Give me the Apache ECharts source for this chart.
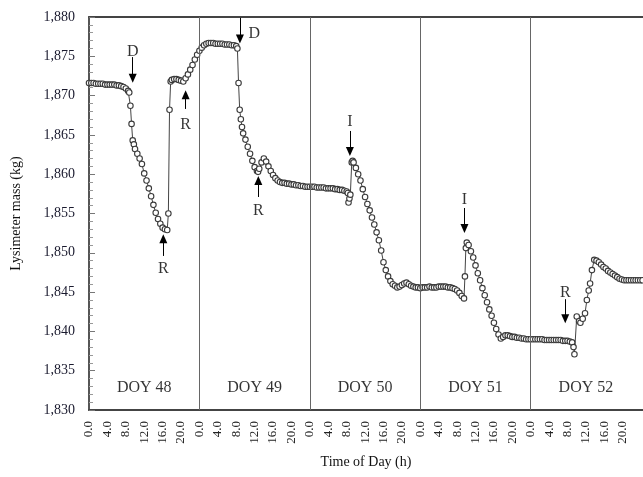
<!DOCTYPE html>
<html>
<head>
<meta charset="utf-8">
<script src="https://cdn.jsdelivr.net/npm/echarts@6/dist/echarts.min.js"></script>
<style>html,body{margin:0;padding:0;background:#fff}#c{width:643px;height:477px}</style>
</head>
<body>
<div id="c"></div>
<script>
// ---- data (hours since start of DOY 48, lysimeter mass kg) ----
const doy48Time = [0,0.5,1,1.5,2,2.5,3,3.5,4,4.5,5,5.5,6,6.5,7,7.5,8,8.5,8.75,9,9.25,9.5,9.75,10,10.5,11,11.5,12,12.5,13,13.5,14,14.5,15,15.5,16,16.5,17,17.25,17.5,17.75,18,18.5,19,19.5,20,20.5,21,21.5,22,22.5,23,23.5];
const doy48Mass = [1871.6,1871.6,1871.6,1871.5,1871.5,1871.5,1871.5,1871.4,1871.4,1871.4,1871.4,1871.4,1871.3,1871.3,1871.2,1871.1,1870.9,1870.6,1870.4,1868.7,1866.4,1864.3,1863.8,1863.2,1862.6,1862.0,1861.3,1860.1,1859.2,1858.2,1857.2,1856.1,1855.1,1854.3,1853.7,1853.2,1853.0,1852.9,1855.0,1868.2,1871.8,1872.0,1872.1,1872.1,1872.0,1871.9,1871.8,1872.2,1872.7,1873.3,1873.9,1874.6,1875.2];

const doy49Time = [24,24.5,25,25.5,26,26.5,27,27.5,28,28.5,29,29.5,30,30.5,31,31.5,32,32.25,32.5,32.75,33,33.25,33.5,34,34.5,35,35.5,36,36.5,36.75,37,37.5,38,38.5,39,39.5,40,40.5,41,41.5,42,42.5,43,43.5,44,44.5,45,45.5,46,46.5,47,47.5];
const doy49Mass = [1875.7,1876.1,1876.4,1876.6,1876.7,1876.7,1876.7,1876.6,1876.6,1876.6,1876.6,1876.5,1876.5,1876.5,1876.4,1876.4,1876.3,1876.0,1871.6,1868.2,1867.0,1866.0,1865.2,1864.4,1863.5,1862.6,1861.7,1860.9,1860.4,1860.3,1860.7,1861.5,1862.0,1861.6,1861.0,1860.4,1859.9,1859.5,1859.2,1859.0,1858.9,1858.9,1858.8,1858.8,1858.7,1858.7,1858.6,1858.6,1858.5,1858.5,1858.4,1858.4];

const doy50Time = [48,48.5,49,49.5,50,50.5,51,51.5,52,52.5,53,53.5,54,54.5,55,55.5,56,56.25,56.4,56.6,56.8,57.1,57.3,57.5,58,58.5,59,59.5,60,60.5,61,61.5,62,62.5,63,63.5,64,64.5,65,65.5,66,66.5,67,67.5,68,68.5,69,69.5,70,70.5,71,71.5];
const doy50Mass = [1858.4,1858.4,1858.4,1858.3,1858.3,1858.3,1858.3,1858.2,1858.2,1858.2,1858.2,1858.1,1858.1,1858.0,1858.0,1857.9,1857.8,1857.6,1856.4,1856.9,1857.4,1861.5,1861.7,1861.5,1860.8,1860.0,1859.2,1858.1,1857.1,1856.2,1855.4,1854.5,1853.6,1852.6,1851.6,1850.3,1848.8,1847.8,1847.0,1846.4,1846.0,1845.8,1845.6,1845.7,1845.9,1846.1,1846.2,1846.0,1845.8,1845.7,1845.6,1845.6];

const doy51Time = [72,72.5,73,73.5,74,74.5,75,75.5,76,76.5,77,77.5,78,78.5,79,79.5,80,80.5,81,81.5,81.7,81.9,82.1,82.5,83,83.5,84,84.5,85,85.5,86,86.5,87,87.5,88,88.5,89,89.5,90,90.5,91,91.5,92,92.5,93,93.5,94,94.5,95,95.5];
const doy51Mass = [1845.5,1845.6,1845.6,1845.6,1845.7,1845.6,1845.6,1845.6,1845.7,1845.7,1845.7,1845.7,1845.6,1845.6,1845.5,1845.4,1845.2,1844.9,1844.5,1844.2,1847.0,1850.6,1851.3,1851.0,1850.2,1849.4,1848.4,1847.4,1846.5,1845.5,1844.6,1843.7,1842.8,1842.0,1841.1,1840.3,1839.6,1839.1,1839.3,1839.5,1839.5,1839.4,1839.3,1839.3,1839.2,1839.2,1839.1,1839.1,1839.0,1839.0];

const doy52Time = [96,96.5,97,97.5,98,98.5,99,99.5,100,100.5,101,101.5,102,102.5,103,103.5,104,104.5,105,105.3,105.5,106,106.5,106.8,107.3,107.8,108.2,108.6,108.9,109.3,109.8,110.3,110.8,111.3,111.8,112.3,112.8,113.3,113.8,114.3,114.8,115.3,115.8,116.3,116.8,117.3,117.8,118.3,118.8,119.3,119.8,120.3];
const doy52Mass = [1839.0,1839.0,1839.0,1839.0,1839.0,1839.0,1838.9,1838.9,1838.9,1838.9,1838.9,1838.9,1838.9,1838.9,1838.8,1838.8,1838.8,1838.7,1838.6,1838.0,1837.1,1841.9,1841.3,1841.1,1841.6,1842.3,1844.0,1845.2,1846.1,1847.8,1849.1,1849.0,1848.8,1848.5,1848.2,1848.0,1847.7,1847.5,1847.3,1847.1,1846.9,1846.7,1846.6,1846.5,1846.5,1846.5,1846.5,1846.5,1846.5,1846.5,1846.5,1846.5];

const dayNames = ['DOY 48','DOY 49','DOY 50','DOY 51','DOY 52'];
const dayCenters = [12,36,60,84,108];
const dayBoundaries = [24,48,72,96];
const yTicks = {min:1830, max:1880, step:5};
const xRange = {min:0, max:120.4, step:4};

// annotations: letter, label position, arrow start -> arrow end (data coords)
const annoLetters = ['D','R','R','D','R','I','I','R'];
const annoText = [[9.5,1875.6],[16.15,1848.0],[21.0,1866.3],[35.9,1877.9],[36.8,1855.4],[56.7,1866.7],[81.6,1856.7],[103.5,1844.9]];
const arrowFrom = [[9.5,1874.9],[16.15,1849.6],[21.0,1868.3],[32.8,1879.9],[36.8,1857.1],[56.7,1865.5],[81.6,1855.7],[103.5,1844.1]];
const arrowTo = [[9.5,1872.2],[16.15,1851.8],[21.0,1870.1],[32.8,1877.2],[36.8,1859.2],[56.7,1862.9],[81.6,1853.1],[103.5,1841.6]];

// ---- build ----
const allTime = [].concat(doy48Time, doy49Time, doy50Time, doy51Time, doy52Time);
const allMass = [].concat(doy48Mass, doy49Mass, doy50Mass, doy51Mass, doy52Mass);
const seriesData = allTime.map((t,i)=>[t, allMass[i]]);

const FONT = "'Liberation Serif','Times New Roman',serif";
const chart = echarts.init(document.getElementById('c'), null, {renderer:'canvas'});

chart.setOption({
  animation: false,
  backgroundColor: '#fff',
  grid: {left: 89, top: 17, right: 0, bottom: 67, containLabel: false},
  xAxis: [{
    type: 'value', min: xRange.min, max: xRange.max, interval: xRange.step,
    name: 'Time of Day (h)', nameLocation: 'middle', nameGap: 45,
    nameTextStyle: {fontFamily: FONT, fontSize: 14, color: '#111'},
    axisLine: {show: true, lineStyle: {color: '#444', width: 2}},
    axisTick: {show: false},
    splitLine: {show: false},
    axisLabel: {
      rotate: 90, margin: 11, fontFamily: FONT, fontSize: 13, color: '#222',
      showMaxLabel: false,
      formatter: v => (v >= 120 ? '' : (v % 24).toFixed(1))
    }
  },{
    type: 'value', position: 'top', min: xRange.min, max: xRange.max,
    axisLine: {show: true, onZero: false, lineStyle: {color: '#444', width: 2}},
    axisTick: {show: false}, axisLabel: {show: false}, splitLine: {show: false}
  }],
  yAxis: {
    type: 'value', min: yTicks.min, max: yTicks.max, interval: yTicks.step,
    name: 'Lysimeter mass (kg)', nameLocation: 'middle', nameGap: 66,
    nameTextStyle: {fontFamily: FONT, fontSize: 14, color: '#111'},
    axisLine: {show: true, lineStyle: {color: '#555', width: 2}},
    axisTick: {show: true, inside: true, length: 6, lineStyle: {color: '#777'}},
    minorTick: {show: true, splitNumber: 5, length: 4, lineStyle: {color: '#999'}},
    splitLine: {show: false},
    axisLabel: {
      margin: 14, fontFamily: FONT, fontSize: 14, color: '#1a1a2e',
      formatter: v => v.toLocaleString('en-US')
    }
  },
  series: [{
    type: 'line',
    data: seriesData,
    symbol: 'circle', symbolSize: 5.5, showAllSymbol: true,
    itemStyle: {color: '#fff', borderColor: '#3a3a3a', borderWidth: 1.1},
    lineStyle: {color: '#444', width: 1},
    clip: true, z: 3,
    markLine: {
      silent: true, animation: false,
      symbol: 'none',
      label: {show: false},
      lineStyle: {color: '#666', width: 1, type: 'solid'},
      data: dayBoundaries.map(b => [{coord: [b, yTicks.min]}, {coord: [b, yTicks.max]}])
    }
  },{
    type: 'line', data: [], z: 4,
    markLine: {
      silent: true, animation: false,
      symbol: ['none', 'triangle'], symbolSize: [8, 9],
      label: {show: false},
      lineStyle: {color: '#000', width: 1, type: 'solid'},
      itemStyle: {color: '#000'},
      data: arrowFrom.map((f,i) => [{coord: f}, {coord: arrowTo[i]}])
    }
  },{
    type: 'scatter', symbolSize: 0, z: 5,
    data: annoText.map((p,i) => ({value: p, name: annoLetters[i]})),
    label: {show: true, position: 'inside', formatter: p => p.name,
      fontFamily: FONT, fontSize: 16, color: '#000'}
  },{
    type: 'scatter', symbolSize: 0, z: 5,
    data: dayCenters.map((c,i) => ({value: [c, 1832.8], name: dayNames[i]})),
    label: {show: true, position: 'inside', formatter: p => p.name,
      fontFamily: FONT, fontSize: 16, color: '#000'}
  }]
});
</script>
</body>
</html>
